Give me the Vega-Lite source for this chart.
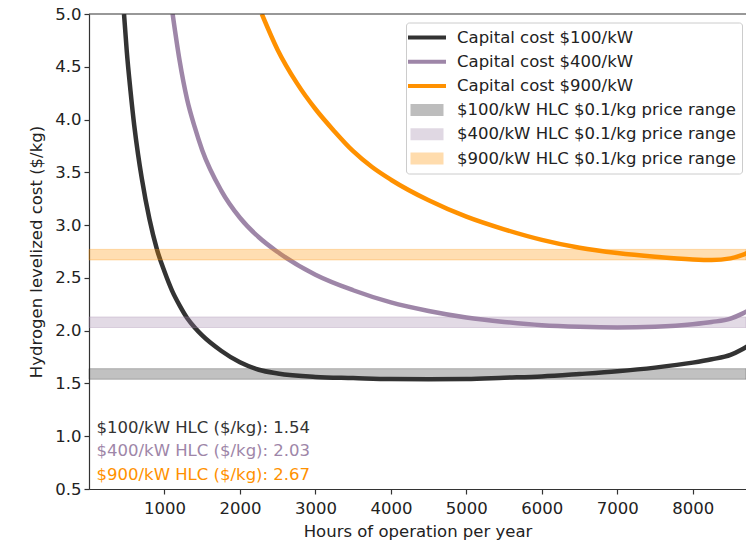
{
  "$schema": "https://vega.github.io/schema/vega-lite/v6.json",
  "width": 657,
  "height": 475,
  "autosize": {"type": "none"},
  "padding": {"left": 89, "top": 14, "right": 0, "bottom": 51},
  "config": {
    "view": {"stroke": null},
    "font": "DejaVu Sans",
    "axis": {
      "labelFont": "DejaVu Sans", "titleFont": "DejaVu Sans",
      "labelFontSize": 16.5, "titleFontSize": 16.5, "titleFontWeight": "normal",
      "labelColor": "#222222", "titleColor": "#222222",
      "domainColor": "#333333", "tickColor": "#333333",
      "domainWidth": 1.2, "tickWidth": 1.2, "tickSize": 5, "grid": false
    }
  },
  "datasets": {
    "curves": [
      {"series": "Capital cost $100/kW", "h": 464, "v": 5.0},
      {"series": "Capital cost $100/kW", "h": 500, "v": 4.65},
      {"series": "Capital cost $100/kW", "h": 550, "v": 4.27},
      {"series": "Capital cost $100/kW", "h": 600, "v": 3.94},
      {"series": "Capital cost $100/kW", "h": 650, "v": 3.67},
      {"series": "Capital cost $100/kW", "h": 700, "v": 3.44},
      {"series": "Capital cost $100/kW", "h": 800, "v": 3.06},
      {"series": "Capital cost $100/kW", "h": 900, "v": 2.77},
      {"series": "Capital cost $100/kW", "h": 1000, "v": 2.56},
      {"series": "Capital cost $100/kW", "h": 1100, "v": 2.38},
      {"series": "Capital cost $100/kW", "h": 1200, "v": 2.24},
      {"series": "Capital cost $100/kW", "h": 1300, "v": 2.12},
      {"series": "Capital cost $100/kW", "h": 1400, "v": 2.03},
      {"series": "Capital cost $100/kW", "h": 1500, "v": 1.955},
      {"series": "Capital cost $100/kW", "h": 1750, "v": 1.81},
      {"series": "Capital cost $100/kW", "h": 2000, "v": 1.70},
      {"series": "Capital cost $100/kW", "h": 2250, "v": 1.63},
      {"series": "Capital cost $100/kW", "h": 2500, "v": 1.595},
      {"series": "Capital cost $100/kW", "h": 3000, "v": 1.562},
      {"series": "Capital cost $100/kW", "h": 3500, "v": 1.551},
      {"series": "Capital cost $100/kW", "h": 4000, "v": 1.541},
      {"series": "Capital cost $100/kW", "h": 4500, "v": 1.540},
      {"series": "Capital cost $100/kW", "h": 5000, "v": 1.542},
      {"series": "Capital cost $100/kW", "h": 5500, "v": 1.554},
      {"series": "Capital cost $100/kW", "h": 6000, "v": 1.566},
      {"series": "Capital cost $100/kW", "h": 6500, "v": 1.589},
      {"series": "Capital cost $100/kW", "h": 7000, "v": 1.615},
      {"series": "Capital cost $100/kW", "h": 7500, "v": 1.65},
      {"series": "Capital cost $100/kW", "h": 8000, "v": 1.697},
      {"series": "Capital cost $100/kW", "h": 8250, "v": 1.729},
      {"series": "Capital cost $100/kW", "h": 8500, "v": 1.771},
      {"series": "Capital cost $100/kW", "h": 8650, "v": 1.822},
      {"series": "Capital cost $100/kW", "h": 8760, "v": 1.869},
      {"series": "Capital cost $400/kW", "h": 1108, "v": 5.0},
      {"series": "Capital cost $400/kW", "h": 1200, "v": 4.56},
      {"series": "Capital cost $400/kW", "h": 1300, "v": 4.19},
      {"series": "Capital cost $400/kW", "h": 1400, "v": 3.93},
      {"series": "Capital cost $400/kW", "h": 1500, "v": 3.71},
      {"series": "Capital cost $400/kW", "h": 1750, "v": 3.33},
      {"series": "Capital cost $400/kW", "h": 2000, "v": 3.07},
      {"series": "Capital cost $400/kW", "h": 2250, "v": 2.885},
      {"series": "Capital cost $400/kW", "h": 2500, "v": 2.745},
      {"series": "Capital cost $400/kW", "h": 3000, "v": 2.53},
      {"series": "Capital cost $400/kW", "h": 3500, "v": 2.383},
      {"series": "Capital cost $400/kW", "h": 4000, "v": 2.268},
      {"series": "Capital cost $400/kW", "h": 4500, "v": 2.187},
      {"series": "Capital cost $400/kW", "h": 5000, "v": 2.125},
      {"series": "Capital cost $400/kW", "h": 5500, "v": 2.083},
      {"series": "Capital cost $400/kW", "h": 6000, "v": 2.052},
      {"series": "Capital cost $400/kW", "h": 6500, "v": 2.037},
      {"series": "Capital cost $400/kW", "h": 7000, "v": 2.031},
      {"series": "Capital cost $400/kW", "h": 7500, "v": 2.038},
      {"series": "Capital cost $400/kW", "h": 8000, "v": 2.061},
      {"series": "Capital cost $400/kW", "h": 8250, "v": 2.082},
      {"series": "Capital cost $400/kW", "h": 8500, "v": 2.114},
      {"series": "Capital cost $400/kW", "h": 8650, "v": 2.159},
      {"series": "Capital cost $400/kW", "h": 8760, "v": 2.201},
      {"series": "Capital cost $900/kW", "h": 2290, "v": 5.0},
      {"series": "Capital cost $900/kW", "h": 2500, "v": 4.66},
      {"series": "Capital cost $900/kW", "h": 2750, "v": 4.35},
      {"series": "Capital cost $900/kW", "h": 3000, "v": 4.10},
      {"series": "Capital cost $900/kW", "h": 3250, "v": 3.89},
      {"series": "Capital cost $900/kW", "h": 3500, "v": 3.70},
      {"series": "Capital cost $900/kW", "h": 3750, "v": 3.55},
      {"series": "Capital cost $900/kW", "h": 4000, "v": 3.43},
      {"series": "Capital cost $900/kW", "h": 4500, "v": 3.235},
      {"series": "Capital cost $900/kW", "h": 5000, "v": 3.08},
      {"series": "Capital cost $900/kW", "h": 5500, "v": 2.96},
      {"series": "Capital cost $900/kW", "h": 6000, "v": 2.86},
      {"series": "Capital cost $900/kW", "h": 6500, "v": 2.785},
      {"series": "Capital cost $900/kW", "h": 7000, "v": 2.735},
      {"series": "Capital cost $900/kW", "h": 7500, "v": 2.70},
      {"series": "Capital cost $900/kW", "h": 8000, "v": 2.675},
      {"series": "Capital cost $900/kW", "h": 8250, "v": 2.67},
      {"series": "Capital cost $900/kW", "h": 8500, "v": 2.685},
      {"series": "Capital cost $900/kW", "h": 8650, "v": 2.715},
      {"series": "Capital cost $900/kW", "h": 8760, "v": 2.75}
    ],
    "bands": [
      {"series": "$100/kW HLC $0.1/kg price range", "lo": 1.54, "hi": 1.64},
      {"series": "$400/kW HLC $0.1/kg price range", "lo": 2.03, "hi": 2.13},
      {"series": "$900/kW HLC $0.1/kg price range", "lo": 2.67, "hi": 2.77}
    ],
    "notes": [
      {"series": "Capital cost $100/kW", "label": "$100/kW HLC ($/kg): 1.54", "h": 100, "v": 1.082},
      {"series": "Capital cost $400/kW", "label": "$400/kW HLC ($/kg): 2.03", "h": 100, "v": 0.858},
      {"series": "Capital cost $900/kW", "label": "$900/kW HLC ($/kg): 2.67", "h": 100, "v": 0.633}
    ]
  },
  "layer": [
    {
      "data": {"name": "curves"},
      "mark": {"type": "line", "strokeWidth": 4.5, "interpolate": "monotone", "clip": true},
      "encoding": {
        "x": {
          "field": "h", "type": "quantitative",
          "scale": {"domain": [0, 8705], "nice": false, "zero": false},
          "axis": {"values": [1000, 2000, 3000, 4000, 5000, 6000, 7000, 8000], "format": "d", "title": "Hours of operation per year", "labelPadding": 6, "titlePadding": 7}
        },
        "y": {
          "field": "v", "type": "quantitative",
          "scale": {"domain": [0.5, 5.0], "nice": false, "zero": false},
          "axis": {"values": [0.5, 1.0, 1.5, 2.0, 2.5, 3.0, 3.5, 4.0, 4.5, 5.0], "format": ".1f", "title": "Hydrogen levelized cost ($/kg)", "labelPadding": 3, "titlePadding": 10}
        },
        "color": {
          "field": "series", "type": "nominal",
          "scale": {
            "domain": ["Capital cost $100/kW", "Capital cost $400/kW", "Capital cost $900/kW", "$100/kW HLC $0.1/kg price range", "$400/kW HLC $0.1/kg price range", "$900/kW HLC $0.1/kg price range"],
            "range": ["#333333", "#9e86a8", "#ff9100", "#333333", "#9e86a8", "#ff9100"]
          },
          "legend": {
            "title": null,
            "orient": "none", "legendX": 317, "legendY": 8.5,
            "padding": 6,
            "fillColor": "rgba(255,255,255,0.8)", "strokeColor": "#cccccc", "cornerRadius": 3,
            "labelFont": "DejaVu Sans", "labelFontSize": 16.5, "labelColor": "#222222", "labelLimit": 400,
            "symbolSize": 196, "symbolStrokeWidth": 4, "symbolType": "stroke",
            "symbolOffset": 6, "labelOffset": 21, "rowPadding": 6.2,
            "encode": {
              "symbols": {
                "update": {
                  "shape": [
                    {"test": "indexof(datum.value, 'Capital') === 0", "value": "M-2.714,0H2.714"},
                    {"value": "M-2.357,-0.857H2.357V0.857H-2.357Z"}
                  ],
                  "fill": {"signal": "scale('color', datum.value)"},
                  "fillOpacity": [
                    {"test": "indexof(datum.value, 'Capital') === 0", "value": 0},
                    {"value": 0.32}
                  ],
                  "stroke": {"signal": "scale('color', datum.value)"},
                  "strokeOpacity": [
                    {"test": "indexof(datum.value, 'Capital') === 0", "value": 1},
                    {"value": 0}
                  ],
                  "opacity": {"value": 1}
                }
              }
            }
          }
        }
      }
    },
    {
      "data": {"name": "bands"},
      "mark": {"type": "rect", "fillOpacity": 0.3, "strokeOpacity": 0.3, "strokeWidth": 1},
      "encoding": {
        "y": {"field": "lo", "type": "quantitative"},
        "y2": {"field": "hi"},
        "color": {"field": "series", "type": "nominal"},
        "stroke": {
          "field": "series", "type": "nominal", "legend": null,
          "scale": {
            "domain": ["$100/kW HLC $0.1/kg price range", "$400/kW HLC $0.1/kg price range", "$900/kW HLC $0.1/kg price range"],
            "range": ["#333333", "#9e86a8", "#ff9100"]
          }
        }
      }
    },
    {
      "data": {"name": "notes"},
      "mark": {"type": "text", "align": "left", "baseline": "middle", "fontSize": 16.5, "font": "DejaVu Sans"},
      "encoding": {
        "x": {"field": "h", "type": "quantitative"},
        "y": {"field": "v", "type": "quantitative"},
        "text": {"field": "label"},
        "color": {"field": "series", "type": "nominal"}
      }
    },
    {
      "data": {"values": [{}]},
      "mark": {"type": "rule", "color": "#333333", "strokeWidth": 1.2},
      "encoding": {"y": {"datum": 5}}
    }
  ]
}
